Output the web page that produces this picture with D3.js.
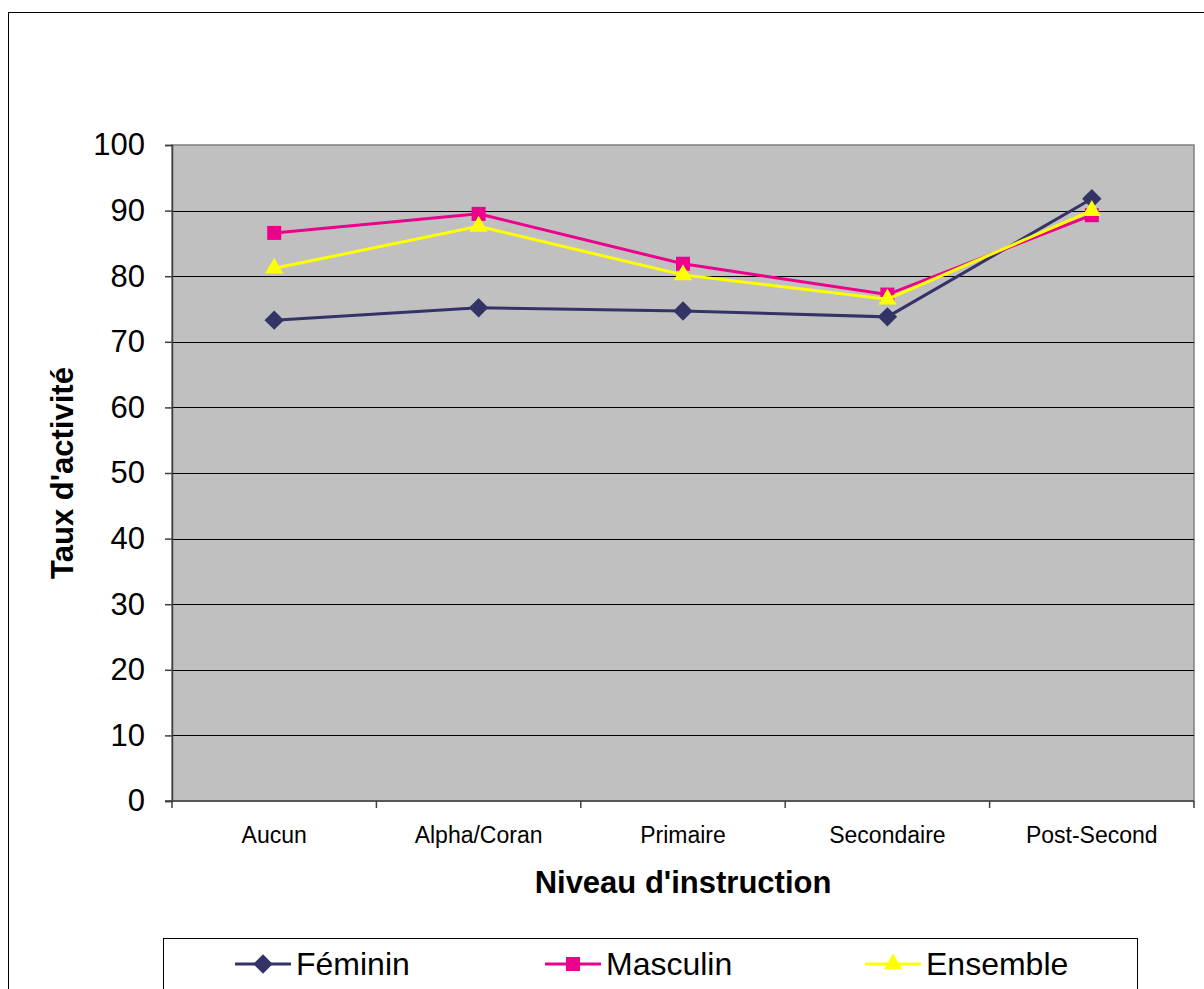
<!DOCTYPE html>
<html>
<head>
<meta charset="utf-8">
<script src="https://cdn.jsdelivr.net/npm/d3@7"></script>
<style>
  html, body { margin: 0; padding: 0; background: #fff; }
  svg { display: block; font-family: "Liberation Sans", Arial, sans-serif; }
</style>
</head>
<body>
<svg id="chart" width="1204" height="989"></svg>
<script>
// Niveaux d'instruction (axe horizontal)
const categories = ["Aucun", "Alpha/Coran", "Primaire", "Secondaire", "Post-Second"];
// Taux d'activité par sexe
const feminin  = [73.3, 75.2, 74.7, 73.8, 91.8];
const masculin = [86.6, 89.5, 81.9, 77.2, 89.3];
const ensemble = [81.2, 87.6, 80.2, 76.5, 90.0];
const yTicks = [0, 10, 20, 30, 40, 50, 60, 70, 80, 90, 100];

const series = [
  { name: "Féminin",  values: feminin,  color: "#333366", symbol: d3.symbolDiamond2 },
  { name: "Masculin", values: masculin, color: "#EC008C", symbol: d3.symbolSquare2 },
  { name: "Ensemble", values: ensemble, color: "#FFFF00", symbol: d3.symbolTriangle2 }
];

const svg = d3.select("#chart");

// cadre général du graphique
svg.append("rect")
  .attr("x", 8.5).attr("y", 12.5)
  .attr("width", 1210).attr("height", 1000)
  .attr("fill", "#fff").attr("stroke", "#000").attr("stroke-width", 1);

const plot = { left: 172, top: 145, right: 1194, bottom: 801 };

const x = d3.scaleBand().domain(categories).range([plot.left, plot.right]).padding(0);
const y = d3.scaleLinear().domain([0, 100]).range([plot.bottom, plot.top]);

// zone de tracé grise
svg.append("rect")
  .attr("x", plot.left).attr("y", plot.top)
  .attr("width", plot.right - plot.left).attr("height", plot.bottom - plot.top)
  .attr("fill", "#C0C0C0").attr("stroke", "#808080").attr("stroke-width", 1.5);

// quadrillage horizontal
svg.append("g").selectAll("line")
  .data(yTicks.filter(t => t > 0 && t < 100))
  .join("line")
  .attr("x1", plot.left).attr("x2", plot.right)
  .attr("y1", d => Math.round(y(d)) + 0.5).attr("y2", d => Math.round(y(d)) + 0.5)
  .attr("stroke", "#000").attr("stroke-width", 1);

// axe vertical
const yAxis = svg.append("g")
  .attr("transform", `translate(${plot.left},0)`)
  .call(d3.axisLeft(y).tickValues(yTicks).tickSize(7).tickPadding(20).tickFormat(d3.format("d")));
yAxis.select(".domain").attr("stroke", "#404040").attr("stroke-width", 1.5);
yAxis.selectAll(".tick line").attr("stroke", "#404040").attr("stroke-width", 1.5);
yAxis.selectAll(".tick text")
  .attr("font-family", "Liberation Sans, Arial, sans-serif")
  .attr("font-size", 31).attr("fill", "#000");

// axe horizontal : graduations aux limites des catégories
const xAxisG = svg.append("g");
xAxisG.append("line")
  .attr("x1", plot.left - 7).attr("x2", plot.right)
  .attr("y1", plot.bottom).attr("y2", plot.bottom)
  .attr("stroke", "#404040").attr("stroke-width", 1.5);
const bounds = categories.map(c => x(c)).concat([plot.right]);
xAxisG.selectAll("line.tk")
  .data(bounds)
  .join("line").attr("class", "tk")
  .attr("x1", d => d).attr("x2", d => d)
  .attr("y1", plot.bottom).attr("y2", plot.bottom + 7)
  .attr("stroke", "#404040").attr("stroke-width", 1.5);
xAxisG.selectAll("text")
  .data(categories)
  .join("text")
  .attr("x", d => x(d) + x.bandwidth() / 2)
  .attr("y", 843)
  .attr("text-anchor", "middle")
  .attr("font-size", 23)
  .attr("fill", "#000")
  .text(d => d);

// titres des axes
svg.append("text")
  .attr("x", (plot.left + plot.right) / 2).attr("y", 893)
  .attr("text-anchor", "middle")
  .attr("font-size", 31).attr("font-weight", "bold")
  .text("Niveau d'instruction");

svg.append("text")
  .attr("transform", `translate(73,${(plot.top + plot.bottom) / 2}) rotate(-90)`)
  .attr("text-anchor", "middle")
  .attr("font-size", 31).attr("font-weight", "bold")
  .text("Taux d'activité");

// séries
const cx = i => x(categories[i]) + x.bandwidth() / 2;
const line = d3.line().x((d, i) => cx(i)).y(d => y(d));

const symSize = { "Féminin": 240, "Masculin": 250, "Ensemble": 240 };

series.forEach(s => {
  const g = svg.append("g");
  g.append("path")
    .datum(s.values)
    .attr("d", line)
    .attr("fill", "none")
    .attr("stroke", s.color)
    .attr("stroke-width", 3);
  g.selectAll("path.mk")
    .data(s.values)
    .join("path").attr("class", "mk")
    .attr("transform", (d, i) => `translate(${cx(i)},${y(d)})`)
    .attr("d", d3.symbol().type(s.symbol).size(symSize[s.name]))
    .attr("fill", s.color);
});

// légende
const legend = svg.append("g");
legend.append("rect")
  .attr("x", 163.5).attr("y", 938.5)
  .attr("width", 974).attr("height", 60)
  .attr("fill", "#fff").attr("stroke", "#000").attr("stroke-width", 1);

const legendX = [235, 545, 865];
series.forEach((s, i) => {
  const lx = legendX[i];
  const ly = 964;
  legend.append("line")
    .attr("x1", lx).attr("x2", lx + 56)
    .attr("y1", ly).attr("y2", ly)
    .attr("stroke", s.color).attr("stroke-width", 3);
  legend.append("path")
    .attr("transform", `translate(${lx + 28},${ly})`)
    .attr("d", d3.symbol().type(s.symbol).size(symSize[s.name]))
    .attr("fill", s.color);
  legend.append("text")
    .attr("x", lx + 61).attr("y", ly + 11)
    .attr("font-size", 32)
    .attr("fill", "#000")
    .text(s.name);
});
</script>
</body>
</html>
